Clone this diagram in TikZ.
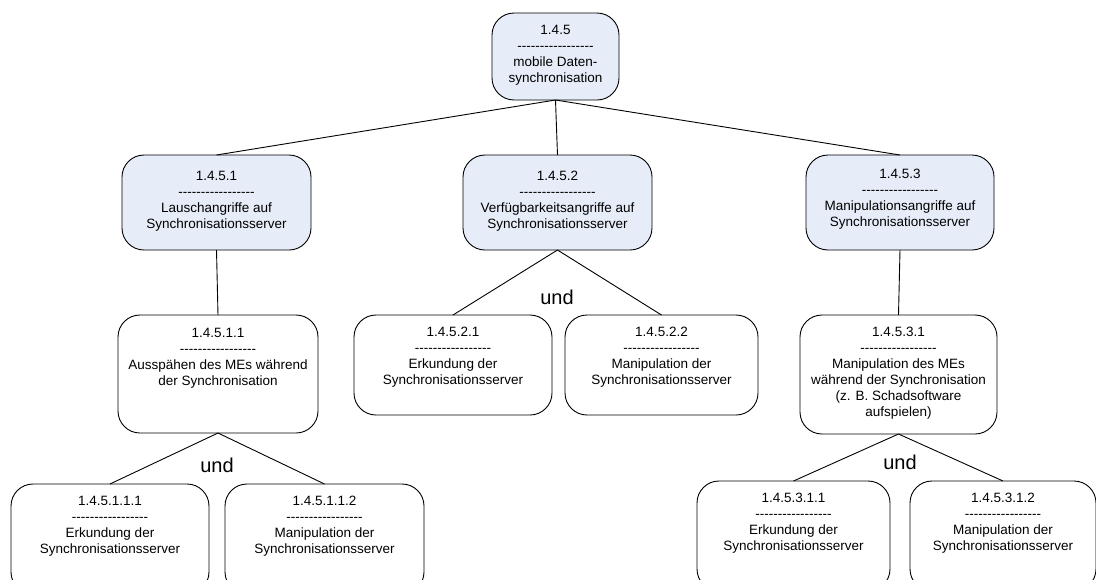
\documentclass[tikz,border=0pt]{standalone}
\usepackage{fontspec}
\setmainfont{Liberation Sans}
\definecolor{paleblue}{RGB}{230,236,248}
% text block of a box: width, height, top offset, lines
\newcommand\cellbody[4]{\parbox[c][#2pt][t]{#1pt}{\centering\vspace*{#3pt}#4\par}}
% separator line made of single hyphens
\newcommand\dashline{-{}-{}-{}-{}-{}-{}-{}-{}-{}-{}-{}-{}-{}-{}-{}-{}-}
\begin{document}
\begin{tikzpicture}[x=1pt,y=-1pt,
  font=\fontsize{13.5}{16}\selectfont,
  box/.style={draw=black, line width=0.9pt, rounded corners=22pt,
    inner sep=0pt, outer sep=0pt, anchor=north west, fill=white},
  topbox/.style={box, fill=paleblue},
  link/.style={draw=black, line width=0.9pt},
  andlabel/.style={font=\fontsize{20}{24}\selectfont, inner sep=0pt}]
\useasboundingbox (0,0) rectangle (1096,579);
\clip (0,0) rectangle (1096,579);

% root
\node[topbox] (r) at (492,13) {\cellbody{127}{87}{12}{1.4.5\\\dashline\\mobile Daten-\\synchronisation}};

% first level
\node[topbox] (a1) at (122,155) {\cellbody{189}{95}{16}{1.4.5.1\\\dashline\\Lauschangriffe auf\\Synchronisationsserver}};
\node[topbox] (a2) at (463,155) {\cellbody{189}{95}{16}{1.4.5.2\\\dashline\\Verfügbarkeitsangriffe auf\\Synchronisationsserver}};
\node[topbox] (a3) at (806,155) {\cellbody{188}{95}{14}{1.4.5.3\\\dashline\\Manipulationsangriffe auf\\Synchronisationsserver}};

% second level
\node[box] (b1) at (118,315) {\cellbody{200}{118}{13}{1.4.5.1.1\\\dashline\\Ausspähen des MEs während\\der Synchronisation}};
\node[box] (b2) at (354,315) {\cellbody{198}{100}{12}{1.4.5.2.1\\\dashline\\Erkundung der\\Synchronisationsserver}};
\node[box] (b3) at (565,315) {\cellbody{193}{100}{12}{1.4.5.2.2\\\dashline\\Manipulation der\\Synchronisationsserver}};
\node[box] (b4) at (800,315) {\cellbody{197}{119}{12}{1.4.5.3.1\\\dashline\\Manipulation des MEs\\während der Synchronisation\\(z. B. Schadsoftware\\aufspielen)}};

% third level
\node[box] (c1) at (11,484) {\cellbody{198}{110}{12}{1.4.5.1.1.1\\\dashline\\Erkundung der\\Synchronisationsserver}};
\node[box] (c2) at (225,484) {\cellbody{199}{110}{12}{1.4.5.1.1.2\\\dashline\\Manipulation der\\Synchronisationsserver}};
\node[box] (c3) at (697,481) {\cellbody{193}{110}{12}{1.4.5.3.1.1\\\dashline\\Erkundung der\\Synchronisationsserver}};
\node[box] (c4) at (910,481) {\cellbody{186}{110}{12}{1.4.5.3.1.2\\\dashline\\Manipulation der\\Synchronisationsserver}};

% connectors
\draw[link] (r.south) -- (a1.north);
\draw[link] (r.south) -- (a2.north);
\draw[link] (r.south) -- (a3.north);
\draw[link] (a1.south) -- (b1.north);
\draw[link] (a2.south) -- (b2.north);
\draw[link] (a2.south) -- (b3.north);
\draw[link] (a3.south) -- (b4.north);
\draw[link] (b1.south) -- (c1.north);
\draw[link] (b1.south) -- (c2.north);
\draw[link] (b4.south) -- (c3.north);
\draw[link] (b4.south) -- (c4.north);

% conjunction labels
\node[andlabel] (u1) at (557,297) {und};
\node[andlabel] (u2) at (217,465) {und};
\node[andlabel] (u3) at (900,462) {und};
\end{tikzpicture}
\end{document}
